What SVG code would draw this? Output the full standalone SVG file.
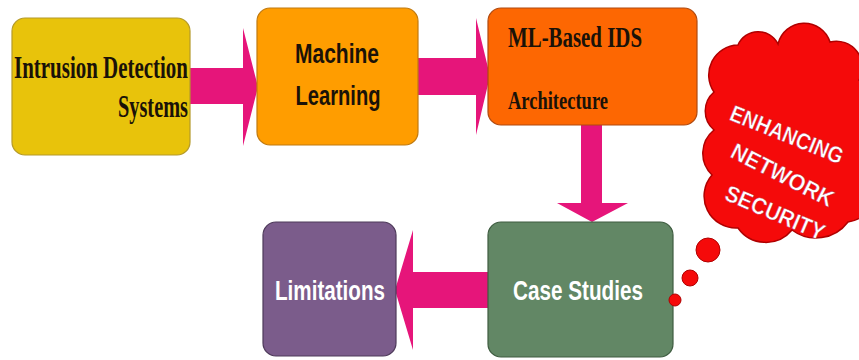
<svg xmlns="http://www.w3.org/2000/svg" width="859" height="360" viewBox="0 0 859 360">
<style>
.serif{font-family:"Liberation Serif","Times New Roman",serif;font-weight:bold;fill:#1a1208}
.sans{font-family:"Liberation Sans",Arial,sans-serif;font-weight:bold}
.dark{fill:#1a1208}
.light{fill:#ffffff}
.arrow{fill:#E6157A}
.cloudtxt{font-family:"Liberation Sans",Arial,sans-serif;font-weight:bold;font-size:23px;fill:#ffffff;text-anchor:middle;stroke:#b0103a;stroke-width:0.4}
</style>
<rect width="859" height="360" fill="#ffffff"/>
<g id="connectors">
<polygon class="arrow" points="190,68 243,68 243,28 258,87 243,146 243,104 190,104"/>
<polygon class="arrow" points="418,58 476,58 476,18 490,76 476,135 476,95 418,95"/>
<polygon class="arrow" points="581,125 602,125 602,203 628,203 592,222 557,203 581,203"/>
<polygon class="arrow" points="488,272 413,272 413,230 395,290 413,350 413,308 488,308"/>
</g>
<g id="node-ids">
<rect x="12" y="18" width="178" height="137" rx="13" fill="#E8C30B" stroke="#B49A2A" stroke-width="1.2"/>
<text class="serif" x="188" y="78" font-size="31" text-anchor="end" textLength="174" lengthAdjust="spacingAndGlyphs">Intrusion Detection</text>
<text class="serif" x="188" y="117" font-size="31" text-anchor="end" textLength="70" lengthAdjust="spacingAndGlyphs">Systems</text>
</g>
<g id="node-ml">
<rect x="257" y="8" width="161" height="137" rx="13" fill="#FF9D00" stroke="#C07A10" stroke-width="1.2"/>
<text class="sans dark" x="337" y="63" font-size="28" text-anchor="middle" textLength="84" lengthAdjust="spacingAndGlyphs">Machine</text>
<text class="sans dark" x="338" y="105" font-size="28" text-anchor="middle" textLength="85" lengthAdjust="spacingAndGlyphs">Learning</text>
</g>
<g id="node-arch">
<rect x="488" y="8" width="209" height="117" rx="13" fill="#FD6702" stroke="#B04A10" stroke-width="1.2"/>
<text class="serif" x="508" y="47" font-size="30" textLength="134" lengthAdjust="spacingAndGlyphs">ML-Based IDS</text>
<text class="serif" x="508" y="109" font-size="26" textLength="100" lengthAdjust="spacingAndGlyphs">Architecture</text>
</g>
<g id="node-case">
<rect x="488" y="222" width="185" height="135" rx="13" fill="#628765" stroke="#3E5C40" stroke-width="1.2"/>
<text class="sans light" x="578" y="300" font-size="28" text-anchor="middle" textLength="130" lengthAdjust="spacingAndGlyphs">Case Studies</text>
</g>
<g id="node-limits">
<rect x="263" y="222" width="133" height="134" rx="13" fill="#7B5C8B" stroke="#4E3A5A" stroke-width="1.2"/>
<text class="sans light" x="330" y="300" font-size="28" text-anchor="middle" textLength="110" lengthAdjust="spacingAndGlyphs">Limitations</text>
</g>
<g id="node-cloud">
<path d="M714,92 A30,30 0 0 1 738,45 A22,22 0 0 1 778,44 A27,27 0 0 1 830,42 A26,26 0 0 1 859,80 A42,42 0 0 1 862,160 A34,34 0 0 1 848,222 A40,40 0 0 1 792,230 A34,34 0 0 1 738,228 A32,32 0 0 1 712,175 A30,30 0 0 1 714,130 A25,25 0 0 1 714,92 Z" fill="#F50A0A" stroke="#B00000" stroke-width="1.5"/>
<circle cx="708" cy="250" r="12" fill="#F50A0A" stroke="#B00000" stroke-width="1"/>
<circle cx="690" cy="278" r="8" fill="#F50A0A" stroke="#B00000" stroke-width="1"/>
<circle cx="675" cy="300" r="6" fill="#F50A0A" stroke="#B00000" stroke-width="1"/>
<text class="cloudtxt" transform="translate(784,142) rotate(22)" textLength="120" lengthAdjust="spacingAndGlyphs">ENHANCING</text>
<text class="cloudtxt" transform="translate(779,182) rotate(27)" textLength="112" lengthAdjust="spacingAndGlyphs">NETWORK</text>
<text class="cloudtxt" transform="translate(772,220) rotate(23)" textLength="106" lengthAdjust="spacingAndGlyphs">SECURITY</text>
</g>
</svg>
